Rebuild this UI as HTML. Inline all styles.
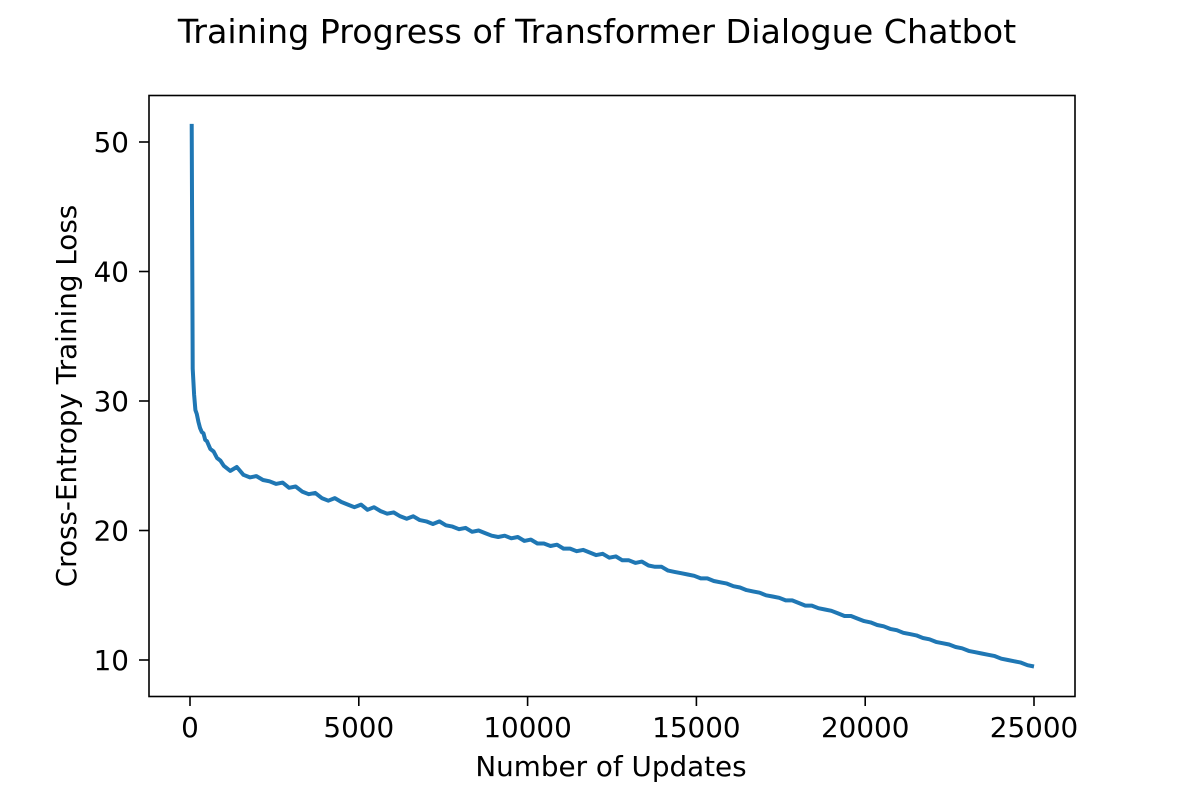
<!DOCTYPE html>
<html><head><meta charset="utf-8"><style>
body{margin:0;background:#fff}
svg text{font-family:"DejaVu Sans","Liberation Sans",sans-serif;fill:#000}
</style></head><body>
<svg id="chart" width="1194" height="796">
<text x="597" y="43" font-size="33.3" text-anchor="middle">Training Progress of Transformer Dialogue Chatbot</text>
<g id="plot"></g>
<rect x="149" y="95.5" width="926" height="601" fill="none" stroke="#000" stroke-width="1.6"/>
<text x="611" y="776" font-size="27.8" text-anchor="middle">Number of Updates</text>
<text transform="translate(76,396) rotate(-90)" font-size="27.8" text-anchor="middle">Cross-Entropy Training Loss</text>
</svg>
<script>
const xTicks=[0,5000,10000,15000,20000,25000];
const yTicks=[10,20,30,40,50];
const steps=[50,80,120,160,200,250,300,350,400,450,500,600,700,800,900];
const losses=[51.4,32.5,30.5,29.3,29.0,28.4,27.9,27.6,27.5,27.0,26.9,26.3,26.1,25.6,25.4];
const tailStart=1000, tailEnd=25000;
const tailLoss=[25.0,24.6,24.9,24.3,24.1,24.2,23.9,23.8,23.6,23.7,23.3,23.4,23.0,22.8,22.9,22.5,22.3,22.5,22.2,22.0,21.8,22.0,21.6,21.8,21.5,21.3,21.4,21.1,20.9,21.1,20.8,20.7,20.5,20.7,20.4,20.3,20.1,20.2,19.9,20.0,19.8,19.6,19.5,19.6,19.4,19.5,19.2,19.3,19.0,19.0,18.8,18.9,18.6,18.6,18.4,18.5,18.3,18.1,18.2,17.9,18.0,17.7,17.7,17.5,17.6,17.3,17.2,17.2,16.9,16.8,16.7,16.6,16.5,16.3,16.3,16.1,16.0,15.9,15.7,15.6,15.4,15.3,15.2,15.0,14.9,14.8,14.6,14.6,14.4,14.2,14.2,14.0,13.9,13.8,13.6,13.4,13.4,13.2,13.0,12.9,12.7,12.6,12.4,12.3,12.1,12.0,11.9,11.7,11.6,11.4,11.3,11.2,11.0,10.9,10.7,10.6,10.5,10.4,10.3,10.1,10.0,9.9,9.8,9.6,9.5];
const xs=v=>190+(v/25000)*844;
const ys=v=>660-(v-10)/40*(660-142);
const NS='http://www.w3.org/2000/svg';
const g=document.getElementById('plot');
function mk(t,a){const e=document.createElementNS(NS,t);for(const k in a)e.setAttribute(k,a[k]);g.appendChild(e);return e;}
xTicks.forEach(t=>{
 const l=mk('line',{x1:xs(t),x2:xs(t),y1:696,y2:706,stroke:'#000','stroke-width':1.6});
 
 
 const tx=mk('text',{x:xs(t),y:737,'font-size':27.8,'text-anchor':'middle'});
 tx.textContent=t;
 
 
});
yTicks.forEach(t=>{
 const l=mk('line',{x1:139,x2:149,y1:ys(t),y2:ys(t),stroke:'#000','stroke-width':1.6});
 
 
 const tx=mk('text',{x:129,y:ys(t)+10,'font-size':27.8,'text-anchor':'end'});
 tx.textContent=t;
 
 
});
const pts=[];
steps.forEach((s,i)=>pts.push([xs(s),ys(losses[i])]));
const tailStep=(tailEnd-tailStart)/(tailLoss.length-1);
tailLoss.forEach((v,i)=>pts.push([xs(tailStart+i*tailStep),ys(v)]));
const p=mk('polyline',{points:pts.map(q=>q[0].toFixed(1)+','+q[1].toFixed(1)).join(' '),fill:'none',stroke:'#1f77b4','stroke-width':4,'stroke-linejoin':'round'});


</script>
</body></html>
